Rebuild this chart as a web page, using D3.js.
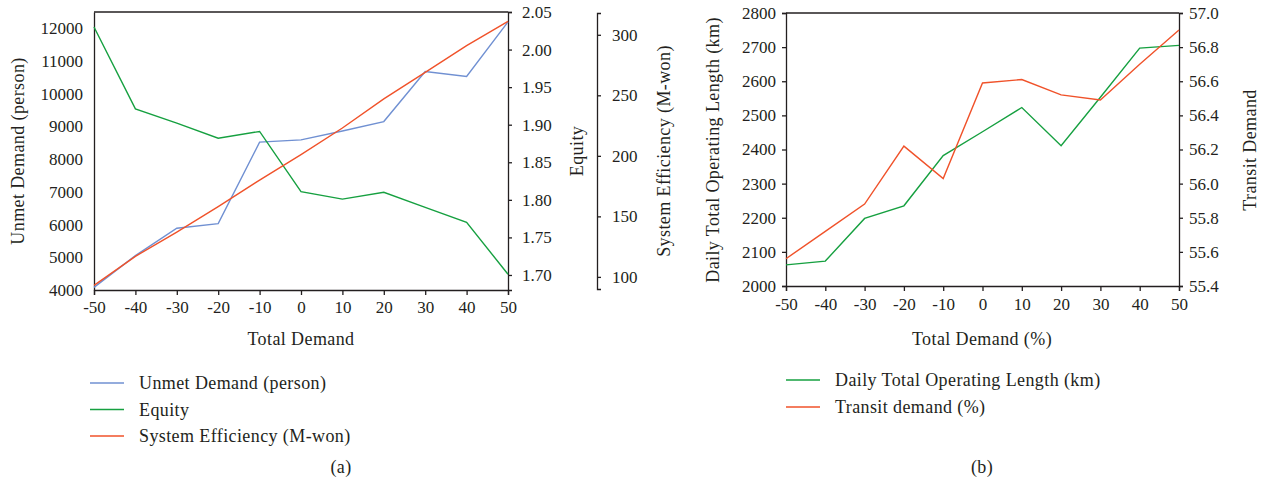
<!DOCTYPE html>
<html>
<head>
<meta charset="utf-8">
<script src="https://cdn.jsdelivr.net/npm/d3@7"></script>
<style>
  body { margin: 0; background: #fff; }
  svg text { font-family: "Liberation Serif", "DejaVu Serif", serif; fill: #231f20; }
  .lbl { font-size: 18px; letter-spacing: 0.4px; }
</style>
</head>
<body>
<svg id="chart" width="1271" height="487"></svg>
<script>
// x categories (total demand change, %)
var demand = [-50, -40, -30, -20, -10, 0, 10, 20, 30, 40, 50];

// panel (a)
var unmetDemand = [4080, 5050, 5890, 6030, 8520, 8590, 8860, 9150, 10680, 10530, 12200];
var equity = [2.030, 1.921, 1.902, 1.882, 1.891, 1.811, 1.801, 1.810, 1.790, 1.770, 1.701];
var sysEfficiency = [93, 117, 137, 158, 180, 201, 223, 247, 269, 291, 311];

var unmetTicks = [4000, 5000, 6000, 7000, 8000, 9000, 10000, 11000, 12000];
var equityTicks = [1.70, 1.75, 1.80, 1.85, 1.90, 1.95, 2.00, 2.05];
var effTicks = [100, 150, 200, 250, 300];

// panel (b)
var operatingLength = [2062, 2073, 2198, 2235, 2382, 2452, 2523, 2411, 2553, 2697, 2705];
var transitDemand = [55.56, 55.72, 55.88, 56.22, 56.03, 56.59, 56.61, 56.52, 56.49, 56.70, 56.90];

var lengthTicks = [2000, 2100, 2200, 2300, 2400, 2500, 2600, 2700, 2800];
var transitTicks = [55.4, 55.6, 55.8, 56.0, 56.2, 56.4, 56.6, 56.8, 57.0];

var blue = "#7090d2", green = "#16a040", red = "#f0522a";
var axisColor = "#231f20";
var fs = "17px";
var plain = function(d) { return String(d); };

var svg = d3.select("#chart");

function styleAxis(g) {
    g.selectAll("path, line").attr("stroke", axisColor).attr("stroke-width", 1.3);
    g.selectAll("text").style("font-size", fs).attr("fill", axisColor);
}

function drawLine(xs, ys, vals, color) {
    var line = d3.line()
        .x(function(d, i) { return xs(demand[i]); })
        .y(function(d) { return ys(d); });
    svg.append("path")
        .datum(vals)
        .attr("fill", "none")
        .attr("stroke", color)
        .attr("stroke-width", 1.4)
        .attr("d", line);
}

function label(x, y, txt, rotate) {
    var t = svg.append("text").attr("class", "lbl").attr("text-anchor", "middle").text(txt);
    if (rotate) t.attr("transform", "translate(" + x + "," + y + ") rotate(-90)");
    else t.attr("x", x).attr("y", y);
    return t;
}

function legend(items, x, y, gap) {
    items.forEach(function(it, i) {
        var yy = y + i * gap;
        svg.append("line")
            .attr("x1", x).attr("x2", x + 34)
            .attr("y1", yy).attr("y2", yy)
            .attr("stroke", it.color).attr("stroke-width", 1.6);
        svg.append("text")
            .attr("class", "lbl")
            .attr("x", x + 49).attr("y", yy + 6)
            .text(it.label);
    });
}

//----- panel (a) -----
var xa = d3.scaleLinear().domain([-50, 50]).range([94, 508]);
var yUnmet = d3.scaleLinear().domain([4000, 12500]).range([290, 12]);
var yEquity = d3.scaleLinear().domain([1.68, 2.05]).range([290, 12]);
var yEff = d3.scaleLinear().domain([90, 318]).range([289, 13]);

// top frame line
svg.append("line").attr("x1", 94).attr("x2", 508).attr("y1", 12).attr("y2", 12)
    .attr("stroke", axisColor).attr("stroke-width", 1.3);

svg.append("g").attr("transform", "translate(0,290)")
    .call(d3.axisBottom(xa).tickValues(demand).tickFormat(plain).tickSizeOuter(0).tickSize(5).tickPadding(6))
    .call(styleAxis);
svg.append("g").attr("transform", "translate(94,0)")
    .call(d3.axisLeft(yUnmet).tickValues(unmetTicks).tickFormat(plain).tickSizeOuter(0).tickSize(0).tickPadding(11))
    .call(styleAxis);
svg.append("g").attr("transform", "translate(508,0)")
    .call(d3.axisRight(yEquity).tickValues(equityTicks).tickFormat(d3.format(".2f")).tickSizeOuter(0).tickSize(4).tickPadding(10))
    .call(styleAxis);
svg.append("g").attr("transform", "translate(597,0)")
    .call(d3.axisRight(yEff).tickValues(effTicks).tickFormat(plain).tickSizeOuter(0).tickSize(4).tickPadding(11))
    .call(styleAxis);

drawLine(xa, yUnmet, unmetDemand, blue);
drawLine(xa, yEquity, equity, green);
drawLine(xa, yEff, sysEfficiency, red);

label(24, 151, "Unmet Demand (person)", true);
label(583, 151, "Equity", true);
label(670, 151, "System Efficiency (M-won)", true);
label(301, 345, "Total Demand");

legend([
    { label: "Unmet Demand (person)", color: blue },
    { label: "Equity", color: green },
    { label: "System Efficiency (M-won)", color: red }
], 90, 383, 26.5);

label(341, 473, "(a)");

//----- panel (b) -----
var xb = d3.scaleLinear().domain([-50, 50]).range([786, 1179]);
var yLength = d3.scaleLinear().domain([2000, 2800]).range([286, 13]);
var yTransit = d3.scaleLinear().domain([55.4, 57.0]).range([286, 13]);

svg.append("line").attr("x1", 786).attr("x2", 1179).attr("y1", 13).attr("y2", 13)
    .attr("stroke", axisColor).attr("stroke-width", 1.3);

svg.append("g").attr("transform", "translate(0,286)")
    .call(d3.axisBottom(xb).tickValues(demand).tickFormat(plain).tickSizeOuter(0).tickSize(5).tickPadding(7))
    .call(styleAxis);
svg.append("g").attr("transform", "translate(786,0)")
    .call(d3.axisLeft(yLength).tickValues(lengthTicks).tickFormat(plain).tickSizeOuter(0).tickSize(4).tickPadding(6))
    .call(styleAxis);
svg.append("g").attr("transform", "translate(1179,0)")
    .call(d3.axisRight(yTransit).tickValues(transitTicks).tickFormat(d3.format(".1f")).tickSizeOuter(0).tickSize(4).tickPadding(6))
    .call(styleAxis);

drawLine(xb, yLength, operatingLength, green);
drawLine(xb, yTransit, transitDemand, red);

label(719, 150, "Daily Total Operating Length (km)", true);
label(1256, 150, "Transit Demand", true);
label(982, 345, "Total Demand (%)");

legend([
    { label: "Daily Total Operating Length (km)", color: green },
    { label: "Transit demand (%)", color: red }
], 786, 380, 27);

label(982, 473, "(b)");
</script>
</body>
</html>
